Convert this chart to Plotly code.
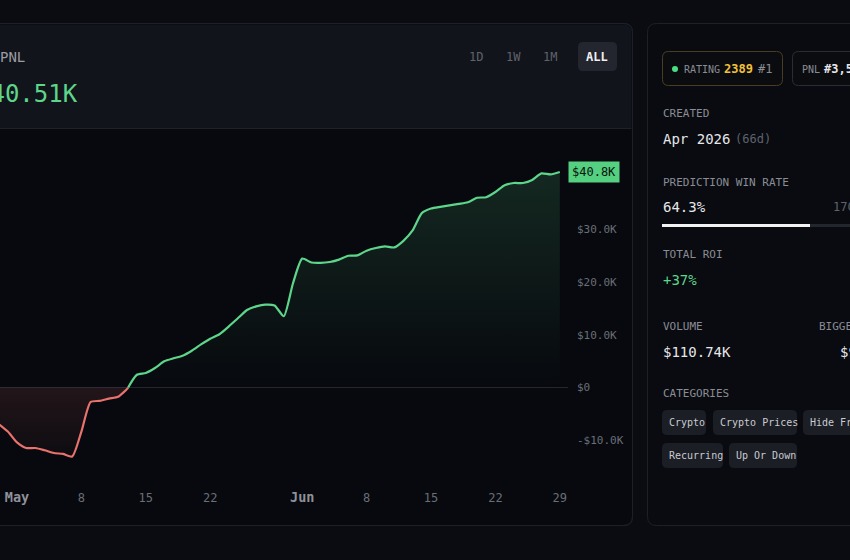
import plotly.graph_objects as go
import pandas as pd

# ---------------- data ----------------
start_date = "2026-04-29"
pnl_k = [-6.91, -8.33, -10.40, -11.46, -11.46, -11.89, -12.41, -12.58, -13.07, -8.35,
         -2.75, -2.52, -2.10, -1.76, -0.21, 2.37, 2.75, 3.69, 4.96, 5.53,
         6.02, 6.97, 8.16, 9.24, 10.09, 11.53, 13.11, 14.68, 15.36, 15.70,
         15.53, 13.50, 19.75, 24.41, 23.67, 23.60, 23.77, 24.22, 24.96, 25.02,
         25.91, 26.42, 26.72, 26.53, 27.78, 29.75, 33.03, 33.90, 34.22, 34.49,
         34.77, 35.08, 35.93, 36.04, 37.03, 38.30, 38.73, 38.73, 39.30, 40.55,
         40.36, 40.81]
dates = pd.date_range(start_date, periods=len(pnl_k), freq="D")

x_tick_dates = ["2026-05-01", "2026-05-08", "2026-05-15", "2026-05-22", "2026-06-01",
                "2026-06-08", "2026-06-15", "2026-06-22", "2026-06-29"]
x_tick_text = ["May", "8", "15", "22", "Jun", "8", "15", "22", "29"]
y_tick_vals = [-10, 0, 10, 20, 30]
y_tick_text = ["-$10.0K", "$0", "$10.0K", "$20.0K", "$30.0K"]
last_label = "$40.8K"
header_value = "$40.51K"
range_buttons = ["1D", "1W", "1M", "ALL"]
categories_row1 = ["Crypto", "Crypto Prices", "Hide From New"]
categories_row2 = ["Recurring", "Up Or Down"]

# ---------------- styling ----------------
MONO = "DejaVu Sans Mono"
GREEN = "#5dd68b"
RED = "#e8726d"
PAGE = "#0a0c12"
HEADER = "#12141b"
CHART_BG = "#07090e"
BORDER = "#1d2028"
GREY = "#8a8d95"
DIM = "#5f636c"
WHITE = "#e6e7ea"

W, H = 850, 560
L, R, T, B = 0, 568, 140, 480


def fx(px):
    return (px - L) / (R - L)


def fy(py):
    return (B - py) / (B - T)


def rpath(x0, y0, x1, y1, r, corners=(1, 1, 1, 1)):
    rx, ry = r / (R - L), r / (B - T)
    X0, X1, Y0, Y1 = fx(x0), fx(x1), fy(y0), fy(y1)
    tl, tr, br, bl = corners
    p = f"M{X0 + rx * tl},{Y0} L{X1 - rx * tr},{Y0} "
    p += f"Q{X1},{Y0} {X1},{Y0 - ry * tr} " if tr else ""
    p += f"L{X1},{Y1 + ry * br} "
    p += f"Q{X1},{Y1} {X1 - rx * br},{Y1} " if br else ""
    p += f"L{X0 + rx * bl},{Y1} "
    p += f"Q{X0},{Y1} {X0},{Y1 + ry * bl} " if bl else ""
    p += f"L{X0},{Y0 - ry * tl} "
    p += f"Q{X0},{Y0} {X0 + rx * tl},{Y0} " if tl else ""
    return p + "Z"


def rrect(x0, y0, x1, y1, r, fill="rgba(0,0,0,0)", line=None, corners=(1, 1, 1, 1)):
    return dict(type="path", xref="paper", yref="paper", layer="below",
                path=rpath(x0, y0, x1, y1, r, corners), fillcolor=fill,
                line=dict(color=line or "rgba(0,0,0,0)", width=1 if line else 0))


def rect(x0, y0, x1, y1, fill, layer="below"):
    return dict(type="rect", xref="paper", yref="paper", layer=layer,
                x0=fx(x0), x1=fx(x1), y0=fy(y1), y1=fy(y0), fillcolor=fill, line=dict(width=0))


def txt(x, y, s, size, color, anchor="left", family=MONO):
    return dict(x=fx(x), y=fy(y), xref="paper", yref="paper", text=s, showarrow=False,
                xanchor=anchor, yanchor="middle", font=dict(size=size, color=color, family=family),
                borderpad=0)


# ---------------- split line at zero ----------------
neg_x, neg_y, pos_x, pos_y = [], [], [], []
for i, (d, v) in enumerate(zip(dates, pnl_k)):
    if i > 0:
        v0 = pnl_k[i - 1]
        if (v0 < 0) != (v < 0):
            f = -v0 / (v - v0)
            dc = dates[i - 1] + (d - dates[i - 1]) * f
            neg_x.append(dc); neg_y.append(0)
            pos_x.append(dc); pos_y.append(0)
    if v < 0:
        neg_x.append(d); neg_y.append(v)
    else:
        pos_x.append(d); pos_y.append(v)

fig = go.Figure()
fig.add_trace(go.Scatter(
    x=neg_x, y=neg_y, mode="lines", line=dict(color=RED, width=2.2, shape="spline", smoothing=0.6),
    fill="tozeroy",
    fillgradient=dict(type="vertical", start=min(pnl_k), stop=0,
                      colorscale=[[0, "rgba(232,114,109,0.03)"], [1, "rgba(232,114,109,0.12)"]]),
    hoverinfo="skip", showlegend=False))
fig.add_trace(go.Scatter(
    x=pos_x, y=pos_y, mode="lines", line=dict(color=GREEN, width=2.2, shape="spline", smoothing=0.6),
    fill="tozeroy",
    fillgradient=dict(type="vertical", start=0, stop=max(pnl_k),
                      colorscale=[[0, "rgba(93,214,139,0.0)"], [1, "rgba(93,214,139,0.15)"]]),
    hoverinfo="skip", showlegend=False))

may1 = pd.Timestamp("2026-05-01")
px_per_day = 9.2
x0_day = 17
xr = [may1 + pd.Timedelta(days=(L - x0_day) / px_per_day), may1 + pd.Timedelta(days=(R - x0_day) / px_per_day)]
y_per_k = 5.28
zero_px = 387.5
yr = [(zero_px - B) / y_per_k, (zero_px - T) / y_per_k]

tick_txt = [f"<b><span style='color:#8f929a;font-size:13.5px'>{t}</span></b>" if t.isalpha() else t
            for t in x_tick_text]

shapes = []
# left panel
shapes.append(rrect(-12, 23.5, 632.5, 525.5, 9, fill=CHART_BG, line=BORDER))
shapes.append(rrect(-11, 24.5, 631.5, 128, 8, fill=HEADER, corners=(1, 1, 0, 0)))
shapes.append(rect(-11, 128, 631.5, 129, "#1e2129"))
shapes.append(rrect(-12, 23.5, 632.5, 525.5, 9, line=BORDER))
# ALL button
shapes.append(rrect(578, 42, 617, 71, 5, fill="#23262e"))
# right panel
shapes.append(rrect(647.5, 23.5, 870, 525.5, 9, fill="#090b10", line=BORDER))
# badges
shapes.append(rrect(662.5, 51.5, 782.5, 85.5, 6, fill="#0b0c10", line="#4a3d22"))
shapes.append(rrect(792.5, 51.5, 880, 85.5, 6, fill="#0b0c10", line="#2a2d35"))
shapes.append(dict(type="circle", xref="paper", yref="paper", layer="below",
                   x0=fx(672), x1=fx(678), y0=fy(72), y1=fy(66), fillcolor="#4ade80", line=dict(width=0)))
# progress bar
shapes.append(rect(662, 224, 810, 227, "#f2f2f2"))
shapes.append(rect(810, 224, 860, 227, "#23262d"))
# category chips
chip_rows = [(410, 435, categories_row1, [(662, 706), (713, 797), (803, 880)]),
             (443, 468, categories_row2, [(662, 723), (729, 797)])]
annotations = []
for y0, y1, labels, spans in chip_rows:
    for lab, (a, b) in zip(labels, spans):
        shapes.append(rrect(a, y0, b, y1, 5, fill="#1b1e25"))
        annotations.append(txt(a + 6, (y0 + y1) / 2, lab, 10, "#c9cbd0"))

# header texts
annotations += [
    txt(25.5, 57, "PNL", 14, "#9a9ca3", anchor="right"),
    txt(79, 94, header_value, 24, GREEN, anchor="right"),
]
for lab, cx in zip(range_buttons, [476, 513, 550, 597]):
    if lab == "ALL":
        annotations.append(txt(cx, 57, f"<b>{lab}</b>", 12, "#f0f0f2", anchor="center"))
    else:
        annotations.append(txt(cx, 57, lab, 12, DIM, anchor="center"))

# right panel texts
annotations += [
    txt(683, 69, "RATING", 10, GREY),
    txt(723, 69, "<b>2389</b>", 12, "#f2c23a"),
    txt(757, 69, "#1", 12, GREY),
    txt(801, 69, "PNL", 10, GREY),
    txt(823, 69, "<b>#3,541</b>", 12, WHITE),
    txt(662, 113, "CREATED", 11, GREY),
    txt(662, 139, "Apr 2026", 14, WHITE),
    txt(734, 139, "(66d)", 12, DIM),
    txt(662, 182, "PREDICTION WIN RATE", 11, GREY),
    txt(662, 207, "64.3%", 14, WHITE),
    txt(832, 207, "170 / 264", 12, DIM),
    txt(662, 254, "TOTAL ROI", 11, GREY),
    txt(662, 280, "+37%", 14, GREEN),
    txt(662, 326, "VOLUME", 11, GREY),
    txt(818, 326, "BIGGEST WIN", 11, GREY),
    txt(662, 352, "$110.74K", 14, WHITE),
    txt(839, 352, "$9.12K", 14, WHITE),
    txt(662, 393, "CATEGORIES", 11, GREY),
]
# last value badge
annotations.append(dict(x=1, xref="paper", y=pnl_k[-1], yref="y", xanchor="left", yanchor="middle",
                        text=last_label, showarrow=False, bgcolor="#55cf80", borderpad=3,
                        font=dict(size=12, color="#07140c", family=MONO)))

fig.update_layout(
    width=W, height=H, margin=dict(l=L, r=W - R, t=T, b=H - B),
    paper_bgcolor=PAGE, plot_bgcolor="rgba(0,0,0,0)",
    showlegend=False, shapes=shapes, annotations=annotations,
    xaxis=dict(type="date", range=xr, showgrid=False, zeroline=False, showline=False,
               tickvals=pd.to_datetime(x_tick_dates), ticktext=tick_txt, ticks="",
               tickfont=dict(family=MONO, size=12, color="#6a6e77"), ticklabelstandoff=9,
               fixedrange=True),
    yaxis=dict(side="right", range=yr, showgrid=False, zeroline=True, zerolinecolor="#23262e",
               zerolinewidth=1, showline=False, tickvals=y_tick_vals, ticktext=y_tick_text, ticks="",
               tickfont=dict(family=MONO, size=11, color="#6a6e77"), ticklabelstandoff=8,
               fixedrange=True),
)

fig.write_html("out.html")
